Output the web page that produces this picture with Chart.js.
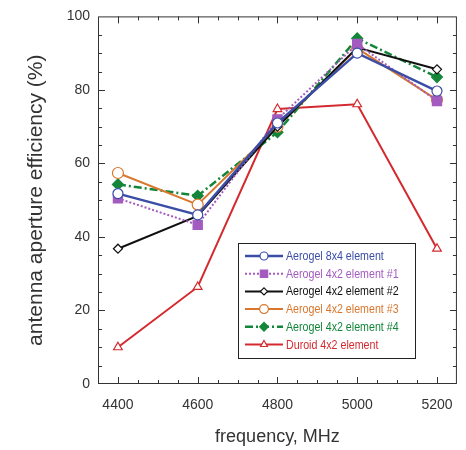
<!DOCTYPE html>
<html>
<head>
<meta charset="utf-8">
<script src="https://cdn.jsdelivr.net/npm/chart.js@4/dist/chart.umd.min.js"></script>
<style>
  html, body { margin: 0; padding: 0; background: #ffffff; }
  canvas { display: block; }
</style>
</head>
<body>
<canvas id="chart" width="466" height="450"></canvas>
<script>
// data
const frequencies = [4400, 4600, 4800, 5000, 5200];
const aerogel8x4 = [51.8, 46.0, 71.0, 90.0, 79.7];
const aerogel1 = [50.5, 43.3, 72.0, 92.5, 77.0];
const aerogel2 = [36.8, 45.7, 70.0, 91.5, 85.6];
const aerogel3 = [57.4, 48.8, 70.0, 91.3, 77.3];
const aerogel4 = [54.3, 51.2, 68.5, 94.0, 83.5];
const duroid = [10.0, 26.4, 74.8, 76.1, 36.8];

const xTicks = [4400, 4600, 4800, 5000, 5200];
const yTicks = [0, 20, 40, 60, 80, 100];

const textColor = "#333333";
const frameColor = "#333333";

const toPoints = (vals) => vals.map((v, i) => ({ x: frequencies[i], y: v }));

function series(label, vals, color, opts) {
  return Object.assign({
    label: label,
    data: toPoints(vals),
    borderColor: color,
    backgroundColor: color,
    pointBorderColor: color,
    pointBackgroundColor: "#ffffff",
    borderWidth: 2,
    pointBorderWidth: 1.2,
    pointRadius: 5,
    pointHoverRadius: 5,
    tension: 0,
  }, opts);
}

const datasets = [
  series("Aerogel 8x4 element", aerogel8x4, "#3b4ea6", { pointStyle: "circle", borderWidth: 2.5, pointRadius: 5 }),
  series("Aerogel 4x2 element #1", aerogel1, "#a35bbf", { pointStyle: "rect", borderDash: [2, 2], pointBackgroundColor: "#a35bbf", pointRadius: 6.5 }),
  series("Aerogel 4x2 element #2", aerogel2, "#111111", { pointStyle: "rectRot", pointRadius: 4.5 }),
  series("Aerogel 4x2 element #3", aerogel3, "#d9772e", { pointStyle: "circle", pointRadius: 5.5 }),
  series("Aerogel 4x2 element #4", aerogel4, "#14863a", { pointStyle: "rectRot", borderDash: [8, 3, 2, 3], borderWidth: 2.5, pointBackgroundColor: "#14863a", pointRadius: 5.5 }),
  series("Duroid 4x2 element", duroid, "#d42a2f", { pointStyle: "triangle", pointRadius: 5 }),
];

// frame + inward ticks on all four sides
const framePlugin = {
  id: "frame",
  afterDatasetsDraw(chart) {
    const { ctx, chartArea: a, scales } = chart;
    const xs = scales.x, ys = scales.y;
    ctx.save();
    ctx.strokeStyle = frameColor;
    ctx.lineWidth = 1;
    ctx.strokeRect(a.left + 0.5, a.top + 0.5, a.right - a.left - 1, a.bottom - a.top - 1);
    ctx.beginPath();
    for (let v = xs.min + 50; v < xs.max; v += 50) {
      const px = Math.round(xs.getPixelForValue(v)) + 0.5;
      const len = xTicks.includes(v) ? 7 : 4;
      ctx.moveTo(px, a.bottom); ctx.lineTo(px, a.bottom - len);
      ctx.moveTo(px, a.top); ctx.lineTo(px, a.top + len);
    }
    for (let v = ys.min + 5; v < ys.max; v += 5) {
      const py = Math.round(ys.getPixelForValue(v)) + 0.5;
      const len = yTicks.includes(v) ? 7 : 4;
      ctx.moveTo(a.left, py); ctx.lineTo(a.left + len, py);
      ctx.moveTo(a.right, py); ctx.lineTo(a.right - len, py);
    }
    ctx.stroke();
    ctx.restore();
  },
};

// legend box inside the plot
const legendPlugin = {
  id: "boxLegend",
  afterDraw(chart) {
    const ctx = chart.ctx;
    const boxX = 238, boxY = 243, boxW = 177, boxH = 115;
    ctx.save();
    ctx.fillStyle = "#ffffff";
    ctx.fillRect(boxX, boxY, boxW, boxH);
    ctx.strokeStyle = "#222222";
    ctx.lineWidth = 1;
    ctx.strokeRect(boxX + 0.5, boxY + 0.5, boxW, boxH);
    chart.data.datasets.forEach((ds, i) => {
      const y = boxY + 13 + i * 17.7;
      ctx.save();
      ctx.strokeStyle = ds.borderColor;
      ctx.lineWidth = ds.borderWidth;
      ctx.setLineDash(ds.borderDash || []);
      ctx.beginPath();
      ctx.moveTo(boxX + 7, y);
      ctx.lineTo(boxX + 45, y);
      ctx.stroke();
      ctx.restore();
      ctx.save();
      ctx.strokeStyle = ds.pointBorderColor;
      ctx.fillStyle = ds.pointBackgroundColor;
      ctx.lineWidth = ds.pointBorderWidth;
      Chart.helpers.drawPoint(ctx, {
        pointStyle: ds.pointStyle,
        radius: ds.pointRadius * 0.8,
        rotation: 0,
        borderWidth: ds.pointBorderWidth,
      }, boxX + 26, y);
      ctx.restore();
      // narrow, tall lettering like the original
      ctx.save();
      ctx.translate(boxX + 48, y + 0.5);
      ctx.scale(0.82, 1);
      ctx.fillStyle = ds.borderColor;
      ctx.font = "13px 'Liberation Sans', Arial, sans-serif";
      ctx.textBaseline = "middle";
      ctx.textAlign = "left";
      ctx.fillText(ds.label, 0, 0);
      ctx.restore();
    });
    ctx.restore();
  },
};

new Chart(document.getElementById("chart").getContext("2d"), {
  type: "line",
  data: { datasets: datasets },
  options: {
    responsive: false,
    animation: false,
    layout: { padding: { top: 15, right: 8, left: 0, bottom: 0 } },
    plugins: {
      legend: { display: false },
      tooltip: { enabled: false },
    },
    scales: {
      x: {
        type: "linear",
        min: 4350,
        max: 5250,
        afterBuildTicks: (scale) => { scale.ticks = xTicks.map((v) => ({ value: v })); },
        afterFit: (scale) => { scale.height = 66; },
        grid: { display: false, drawTicks: false },
        border: { display: false },
        ticks: {
          padding: 13,
          color: textColor,
          font: { family: "'Liberation Sans', Arial, sans-serif", size: 14 },
          callback: (v) => String(v),
        },
        title: {
          display: true,
          text: "frequency, MHz",
          color: textColor,
          font: { family: "'Liberation Sans', Arial, sans-serif", size: 18 },
          padding: { top: 0, bottom: 2 },
        },
      },
      y: {
        type: "linear",
        min: 0,
        max: 100,
        afterBuildTicks: (scale) => { scale.ticks = yTicks.map((v) => ({ value: v })); },
        afterFit: (scale) => { scale.width = 98; },
        grid: { display: false, drawTicks: false },
        border: { display: false },
        ticks: {
          padding: 8,
          color: textColor,
          font: { family: "'Liberation Sans', Arial, sans-serif", size: 14 },
        },
        title: {
          display: true,
          text: "antenna aperture efficiency (%)",
          color: textColor,
          font: { family: "'Liberation Sans', Arial, sans-serif", size: 21 },
          padding: { top: 24, bottom: 0 },
        },
      },
    },
  },
  plugins: [framePlugin, legendPlugin],
});
</script>
</body>
</html>
